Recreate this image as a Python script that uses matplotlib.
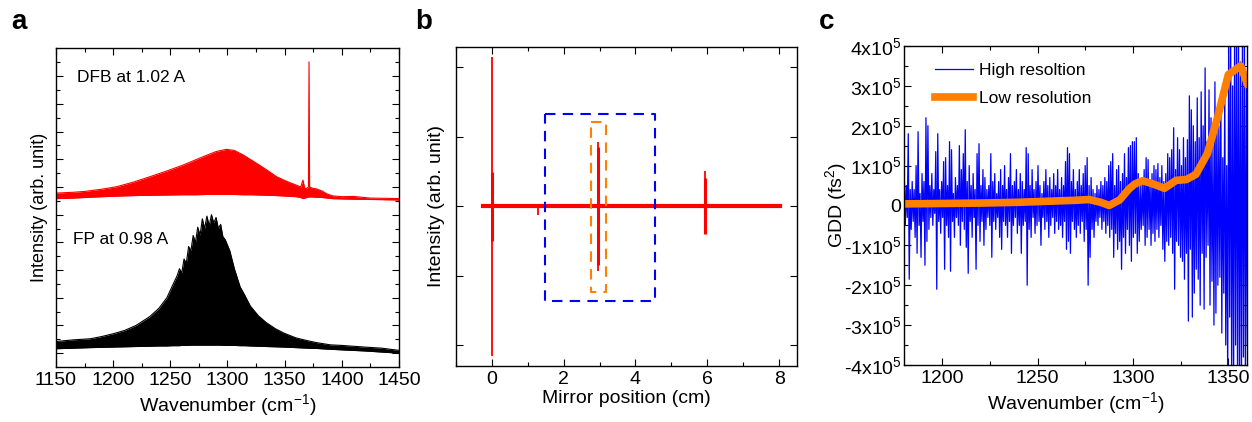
import numpy as np
import matplotlib
matplotlib.use('Agg')
import matplotlib.pyplot as plt
from matplotlib.ticker import MultipleLocator, FixedLocator

plt.rcParams['font.family'] = ['Liberation Sans', 'DejaVu Sans']
plt.rcParams['mathtext.fontset'] = 'custom'
plt.rcParams['mathtext.rm'] = 'Liberation Sans'
plt.rcParams['mathtext.default'] = 'regular'
plt.rcParams['font.size'] = 14

# ---- panel a: emission spectra (envelopes) ----
red_wn = [1150, 1165, 1175, 1190, 1203, 1218, 1232, 1247, 1261, 1272,
          1282, 1290, 1299, 1306, 1314, 1321, 1328, 1336, 1343, 1352,
          1360, 1364, 1366, 1367.5, 1369, 1370.8, 1371.3, 1371.8, 1374, 1378,
          1383, 1387, 1392, 1400, 1410, 1425, 1440, 1450]
red_top = [6.28, 6.31, 6.34, 6.42, 6.51, 6.68, 6.87, 7.08, 7.29, 7.48,
           7.65, 7.78, 7.86, 7.82, 7.65, 7.47, 7.29, 7.07, 6.87, 6.7,
           6.57, 6.5, 6.75, 6.45, 6.45, 6.5, 11.02, 6.5, 6.46, 6.43,
           6.35, 6.25, 6.18, 6.15, 6.16, 6.1, 6.09, 6.08]
red_bot = [6.08, 6.1, 6.12, 6.15, 6.17, 6.19, 6.2, 6.21, 6.22, 6.22,
           6.23, 6.23, 6.23, 6.23, 6.22, 6.22, 6.21, 6.2, 6.19, 6.17,
           6.15, 6.12, 6.08, 6.1, 6.12, 6.14, 6.14, 6.14, 6.14, 6.13,
           6.12, 6.1, 6.08, 6.07, 6.06, 6.05, 6.04, 6.03]

black_wn = [1150, 1165, 1180, 1190, 1200, 1210, 1220, 1232, 1240, 1247,
            1252, 1256, 1258, 1260, 1262, 1264, 1266, 1268, 1270, 1272,
            1274, 1276, 1278, 1280, 1282, 1284, 1286, 1288, 1290, 1292,
            1294, 1296, 1298, 1302, 1306, 1311, 1315, 1320, 1327, 1334,
            1342, 1349, 1360, 1370, 1378, 1390, 1400, 1420, 1435, 1450]
black_top = [0.92, 0.98, 1.02, 1.1, 1.2, 1.32, 1.5, 1.82, 2.12, 2.5,
             2.95, 3.3, 3.55, 3.4, 3.9, 3.75, 4.35, 4.2, 4.75, 4.5,
             5.05, 4.75, 5.35, 5.0, 5.45, 5.1, 5.5, 5.2, 5.4, 5.0,
             5.15, 4.7, 4.6, 4.2, 3.55, 2.9, 2.6, 2.2, 1.85, 1.6,
             1.38, 1.23, 1.05, 0.95, 0.88, 0.8, 0.78, 0.72, 0.68, 0.6]
black_bot = [0.66, 0.68, 0.7, 0.71, 0.72, 0.73, 0.74, 0.75, 0.76, 0.76,
             0.77, 0.77, 0.77, 0.78, 0.78, 0.78, 0.78, 0.79, 0.79, 0.79,
             0.79, 0.79, 0.79, 0.79, 0.79, 0.79, 0.79, 0.79, 0.79, 0.79,
             0.79, 0.78, 0.78, 0.78, 0.78, 0.77, 0.77, 0.76, 0.75, 0.74,
             0.73, 0.72, 0.7, 0.68, 0.67, 0.64, 0.62, 0.58, 0.54, 0.5]

# ---- panel b: interferogram ----
base_x = [-0.25, 8.02]
base_y = [0, 0]
burst_pos = [0.0, 2.97, 5.92, 1.28]
burst_up = [2.15, 0.93, 0.51, 0.02]
burst_down = [-2.16, -0.93, -0.37, -0.13]
burst_core = [0.5, 0.85, 0.4, 0.0]
box_blue = [1.47, 4.55, -1.37, 1.33]
box_orange = [2.75, 3.18, -1.24, 1.22]

# ---- panel c: GDD ----
gdd_upper = [
    0.7, 0.5, 1.8, 0.4, 0.6, 0.4, 1.0, 1.85, 0.3, 0.8, 0.6, 2.2, 2.0, 0.5, 0.8,
    0.4, 1.35, 1.8, 0.4, 0.6, 1.1, 1.2, 0.5, 1.6, 1.4, 0.3, 0.7, 0.5, 1.5, 0.9,
    1.3, 1.9, 0.6, 1.0, 0.5, 0.8, 0.4, 1.3, 1.55, 0.5, 0.9, 0.7, 0.4, 0.5, 1.3,
    0.6, 0.8, 0.3, 0.6, 0.9, 0.5, 1.0, 0.4, 0.7, 1.3, 0.5, 0.6, 0.9, 0.4,
    0.8, 0.6, 0.4, 1.45, 1.3, 0.5, 0.9, 0.4, 0.6, 1.0, 0.5, 0.3, 0.6, 0.9, 0.5,
    0.7, 0.4, 0.8, 0.5, 0.9, 0.4, 0.7, 0.5, 1.1, 1.45, 1.3, 0.6, 0.9, 0.4,
    0.6, 0.9, 0.5, 0.8, 1.0, 1.2, 0.5, 0.7, 0.4, 0.3, 0.5, 0.4, 0.6, 0.5, 0.7,
    0.6, 1.0, 1.1, 1.3, 0.5, 0.9, 1.0, 0.6, 0.8, 1.3, 0.7, 1.45, 1.5, 1.6,
    1.6, 1.7, 0.8, 0.5, 0.6, 0.9, 1.2, 1.15, 0.6, 0.8, 1.0, 0.9, 1.05, 0.7, 1.0,
    0.6, 0.8, 1.3, 1.2, 1.4, 1.95, 0.9, 1.7, 1.4, 1.0, 1.7, 1.2, 1.65, 2.75,
    2.4, 2.0, 1.6, 2.7, 1.7, 2.85, 2.0, 3.45, 1.6, 2.9, 2.2, 1.5, 3.1, 2.3, 2.0,
    2.8, 1.2, 3.2, 1.0, 4.5, 4.5, 3.0, 4.5, 4.5, 4.5, 3.6, 4.5, 4.5, 3.0]
gdd_lower = [
    -0.5, -0.3, -1.85, -0.6, -0.4, -0.8, -1.2, -0.5, -1.3, -0.4, -1.5, -0.9, -0.6, -0.3, -0.5,
    -0.2, -2.1, -0.4, -0.7, -0.3, -1.6, -0.5, -0.8, -1.65, -0.4, -0.8, -0.3, -0.5, -1.0, -0.4,
    -0.6, -1.05, -1.7, -0.4, -0.8, -0.3, -1.6, -0.5, -0.9, -0.4, -1.0, -0.6, -0.3, -0.5, -1.3,
    -0.4, -0.6, -0.3, -0.8, -1.1, -0.4, -0.5, -0.8, -0.4, -1.2, -0.5, -0.3, -0.7, -0.5,
    -1.2, -0.5, -0.4, -2.0, -0.6, -0.8, -0.3, -0.7, -0.5, -0.4, -1.0, -0.3, -0.6, -0.4, -0.8,
    -0.5, -0.3, -0.7, -0.4, -0.6, -0.5, -0.8, -0.4, -1.1, -0.9, -1.2, -0.4, -0.6, -0.8,
    -0.5, -0.7, -0.4, -0.9, -0.6, -2.0, -1.3, -0.6, -0.8, -0.4, -0.5, -0.3, -0.6, -0.4, -0.7,
    -0.5, -0.8, -0.6, -1.3, -0.7, -1.1, -0.9, -1.6, -0.8, -1.2, -0.6, -1.0, -1.4, -0.8,
    -0.7, -1.2, -0.9, -0.6, -0.5, -1.0, -0.8, -0.6, -1.0, -0.7, -0.9, -0.6, -0.8, -0.5, -1.1,
    -1.4, -0.9, -1.0, -0.8, -1.2, -2.1, -0.9, -1.0, -1.3, -1.4, -1.85, -1.2, -2.9, -1.1,
    -2.8, -2.2, -1.6, -1.85, -2.5, -1.2, -2.6, -1.3, -1.0, -2.5, -1.9, -3.0, -2.7, -2.0, -1.8,
    -3.2, -2.2, -3.5, -4.5, -2.8, -4.5, -4.5, -3.5, -4.5, -4.5, -4.5, -3.8, -4.5, -3.5]
lo_wn = [1180, 1200, 1220, 1240, 1258, 1270, 1277, 1283, 1287.5, 1293, 1298, 1301,
         1305, 1310, 1316.5, 1322.6, 1328, 1333, 1339, 1344.6, 1350, 1356.5, 1360]
lo_gdd = [0.04, 0.05, 0.06, 0.08, 0.11, 0.13, 0.15, 0.08, 0.0, 0.14, 0.42, 0.54,
          0.62, 0.55, 0.43, 0.63, 0.65, 0.78, 1.3, 2.25, 3.28, 3.5, 3.05]

fig = plt.figure(figsize=(12.52, 4.22), dpi=100)
ax1 = fig.add_axes([0.0447, 0.1303, 0.274, 0.756])
ax2 = fig.add_axes([0.364, 0.1334, 0.2728, 0.756])
ax3 = fig.add_axes([0.7223, 0.1351, 0.274, 0.756])

for ax in (ax1, ax2, ax3):
    ax.tick_params(which='both', direction='in', top=True, right=True, labelsize=14)
    ax.tick_params(which='major', length=5, width=0.8)
    ax.tick_params(which='minor', length=3, width=0.8)
    for s in ax.spines.values():
        s.set_linewidth(1.0)

# panel a
ax1.fill_between(red_wn, red_bot, red_top, color='red', lw=0)
ax1.plot(red_wn, red_top, color='red', lw=0.8)
ax1.plot(red_wn, red_bot, color='red', lw=0.8)
ax1.fill_between(black_wn, black_bot, black_top, color='black', lw=0)
ax1.plot(black_wn, black_top, color='black', lw=0.8)
ax1.plot(black_wn, black_bot, color='black', lw=0.8)
ax1.set_xlim(1150, 1450)
ax1.set_ylim(0, 11.52)
ax1.xaxis.set_major_locator(MultipleLocator(50))
ax1.xaxis.set_minor_locator(MultipleLocator(25))
ax1.yaxis.set_major_locator(FixedLocator(np.arange(0.5, 11.5, 1.0)))
ax1.yaxis.set_minor_locator(FixedLocator(np.arange(1.0, 11.5, 1.0)))
ax1.set_yticklabels([])
ax1.set_xlabel('Wavenumber (cm$^{-1}$)', fontsize=14, labelpad=2)
ax1.set_ylabel('Intensity (arb. unit)', fontsize=13)
ax1.yaxis.set_label_coords(-0.024, 0.5)
ax1.text(1168, 10.45, 'DFB at 1.02 A', fontsize=12.5, va='center')
ax1.text(1165, 4.6, 'FP at 0.98 A', fontsize=12.5, va='center')

# panel b
ax2.plot(base_x, base_y, color='red', lw=3)
ax2.vlines(burst_pos, burst_down, burst_up, color='red', lw=1.3)
ax2.vlines(burst_pos, [-c for c in burst_core], burst_core, color='red', lw=2.2)
for box, col in ((box_blue, '#0000FF'), (box_orange, '#FF7F00')):
    x0, x1, y0, y1 = box
    ax2.plot([x0, x1, x1, x0, x0], [y1, y1, y0, y0, y1], color=col, lw=1.5,
             dashes=(5, 3.5))
ax2.set_xlim(-1, 8.5)
ax2.set_ylim(-2.3, 2.3)
ax2.xaxis.set_major_locator(MultipleLocator(2))
ax2.xaxis.set_minor_locator(MultipleLocator(1))
ax2.yaxis.set_major_locator(MultipleLocator(1))
ax2.set_yticklabels([])
ax2.set_xlabel('Mirror position (cm)', fontsize=14, labelpad=2)
ax2.set_ylabel('Intensity (arb. unit)', fontsize=14)
ax2.yaxis.set_label_coords(-0.031, 0.5)

# panel c
n = len(gdd_upper)
hi = np.empty(2 * n)
hi[0::2] = gdd_upper
hi[1::2] = gdd_lower
hi_wn = np.linspace(1180, 1360, 2 * n)
ax3.plot(hi_wn, hi * 1e5, color='#0000FF', lw=0.9, label='High resoltion')
ax3.plot(lo_wn, np.array(lo_gdd) * 1e5, color='#FF7F00', lw=5.5, label='Low resolution')
ax3.set_xlim(1180, 1360)
ax3.set_ylim(-4e5, 4e5)
ax3.xaxis.set_major_locator(MultipleLocator(50))
ax3.xaxis.set_minor_locator(MultipleLocator(25))
yt = np.arange(-4, 5)
ax3.set_yticks(yt * 1e5)
ax3.set_yticklabels(['0' if v == 0 else '%dx10$^{5}$' % v for v in yt])
ax3.yaxis.set_minor_locator(MultipleLocator(0.5e5))
ax3.tick_params(axis='y', pad=2)
ax3.set_xlabel('Wavenumber (cm$^{-1}$)', fontsize=14, labelpad=2)
ax3.set_ylabel('GDD (fs$^{2}$)', fontsize=14)
ax3.yaxis.set_label_coords(-0.16, 0.5)
ax3.legend(loc='upper left', bbox_to_anchor=(0.065, 0.975), frameon=False,
           borderpad=0, handlelength=2.2, handletextpad=0.3, labelspacing=0.75,
           fontsize=12.5)

fig.text(0.009, 0.948, 'a', fontsize=20, fontweight='bold', va='center')
fig.text(0.332, 0.948, 'b', fontsize=20, fontweight='bold', va='center')
fig.text(0.654, 0.948, 'c', fontsize=20, fontweight='bold', va='center')

fig.savefig('out.png', dpi=100)
